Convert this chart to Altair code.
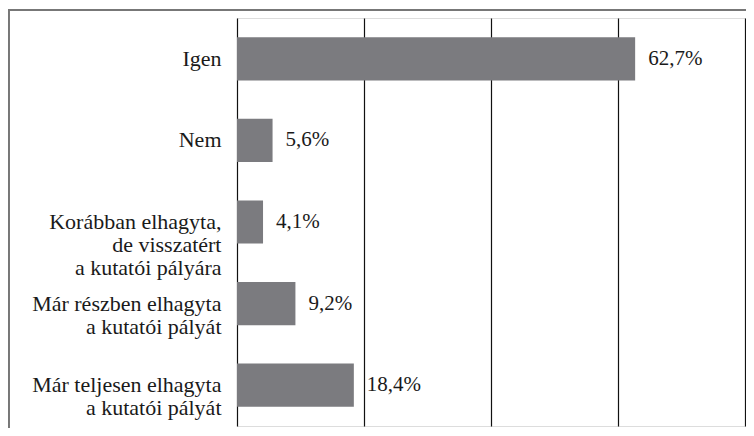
import altair as alt
import pandas as pd

categories = [
    "Igen",
    "Nem",
    "Korábban elhagyta,|de visszatért|a kutatói pályára",
    "Már részben elhagyta|a kutatói pályát",
    "Már teljesen elhagyta|a kutatói pályát",
]
values = [62.7, 5.6, 4.1, 9.2, 18.4]
grid_values = [0, 20, 40, 60, 80]

df = pd.DataFrame({
    "cat": categories,
    "val": values,
    "lbl": [f"{v:.1f}%".replace(".", ",") for v in values],
})

FONT = "Liberation Serif"

base = alt.Chart(df)

y_enc = alt.Y(
    "cat:N",
    sort=categories,
    scale=alt.Scale(paddingInner=0.47, paddingOuter=0.235),
    axis=alt.Axis(
        title=None,
        labelExpr="split(datum.label, '|')",
        ticks=False,
        domain=False,
        labelFont=FONT,
        labelFontSize=22,
        labelColor="#1a1a1a",
        labelPadding=16,
        labelLineHeight=23,
        labelLimit=0,
    ),
)

x_enc = alt.X(
    "val:Q",
    scale=alt.Scale(domain=[0, 80], nice=False),
    axis=alt.Axis(
        title=None,
        labels=False,
        ticks=False,
        domain=False,
        grid=True,
        gridColor="#111111",
        gridOpacity=1,
        gridWidth=1.2,
        values=grid_values,
    ),
)

bars = base.mark_bar(color="#7b7b7f").encode(y=y_enc, x=x_enc)

text = base.mark_text(
    align="left", baseline="middle", dx=13, font=FONT, fontSize=21, color="#1a1a1a"
).encode(y=alt.Y("cat:N", sort=categories), x="val:Q", text="lbl:N")

frame_left = alt.Chart(df).mark_rule(color="#777777", strokeWidth=2).encode(
    x=alt.value(-228.5), y=alt.value(-8), y2=alt.value(440)
)
frame_top = alt.Chart(df).mark_rule(color="#777777", strokeWidth=2).encode(
    x=alt.value(-229.5), x2=alt.value(520), y=alt.value(-8)
)

chart = (
    alt.layer(frame_left, frame_top, bars, text)
    .properties(
        width=508,
        height=408,
        padding={"left": 229, "top": 10, "right": 1, "bottom": 2},
        autosize=alt.AutoSizeParams(type="none"),
    )
    .configure_view(stroke="#111111", strokeWidth=1.6)
    .configure(background="white")
)

chart.save("out.html", embed_options={"renderer": "svg", "actions": False})
